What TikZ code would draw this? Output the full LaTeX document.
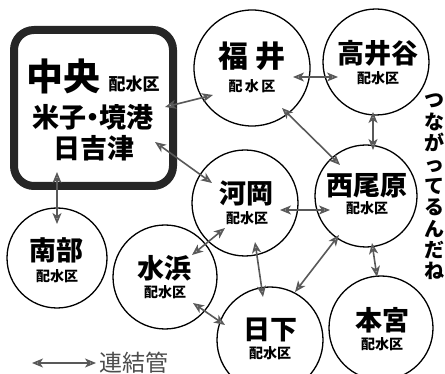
\documentclass[tikz,border=0pt]{standalone}
\usepackage{fontspec}
\newfontfamily\jp{Noto Sans CJK JP}
\usetikzlibrary{arrows.meta,calc}
\begin{document}
\begin{tikzpicture}[x=1pt,y=-1pt,
  ward/.style={circle,draw=black,line width=1.3pt,minimum size=#1,inner sep=0pt},
  big/.style={font=\jp\bfseries\fontsize{27}{30}\selectfont,inner sep=0pt},
  small/.style={font=\jp\bfseries\fontsize{14}{16}\selectfont,inner sep=0pt},
  conn/.style={draw=black!65,line width=1.6pt,
    {Stealth[length=11pt,width=9pt,inset=3pt,fill=black!30]}-{Stealth[length=11pt,width=9pt,inset=3pt,fill=black!30]}},
]
\useasboundingbox (0,0) rectangle (445,374);
% central box
\node[draw=black!85,line width=8pt,rounded corners=20pt,minimum width=159pt,minimum height=156pt] (chuo) at (93.5,108) {};
\node[font=\jp\bfseries\fontsize{37}{40}\selectfont,inner sep=0pt] (chuoT) at (63.5,76) {中央};
\node[font=\jp\bfseries\fontsize{17}{19}\selectfont,inner sep=0pt] (chuoS) at (134,84) {配水区};
\node[big] (yonago) at (93,117) {米子\kern-7pt・\kern-7pt境港};
\node[big] (hiezu) at (94,148) {日吉津};
% circles
\node[ward=116pt] (fukui) at (252,68) {};
\node[ward=106pt] (takaiya) at (376,62) {};
\node[ward=102pt] (nishio) at (366,196) {};
\node[ward=106pt] (kawaoka) at (245,203) {};
\node[ward=100pt] (nanbu) at (57,258) {};
\node[ward=104pt] (mizuhama) at (165,277) {};
\node[ward=106pt] (kusaka) at (270,340) {};
\node[ward=104pt] (hongu) at (381,328) {};
% labels
\node[big,font=\jp\bfseries\fontsize{30}{32}\selectfont] (fukuiT) at (252,56) {福\hspace{8pt}井};
\node[small] (fukuiS) at (252,86) {配\,水\,区};
\node[big] (takaiyaT) at (378,53) {高井谷};
\node[small] (takaiyaS) at (378,78) {配水区};
\node[big] (nishioT) at (367,186) {西尾原};
\node[small] (nishioS) at (367,208) {配水区};
\node[big] (kawaokaT) at (246,193) {河岡};
\node[small] (kawaokaS) at (247,218) {配水区};
\node[big] (nanbuT) at (57,250) {南部};
\node[small] (nanbuS) at (57,276) {配水区};
\node[big] (mizuhamaT) at (164,268) {水浜};
\node[small] (mizuhamaS) at (165,292) {配水区};
\node[big] (kusakaT) at (270,330) {日下};
\node[small] (kusakaS) at (270,353) {配水区};
\node[big] (honguT) at (382,320) {本宮};
\node[small] (honguS) at (382,344) {配水区};
% vertical comment
\node[font=\jp\bfseries\fontsize{20}{21.4}\selectfont,align=center,inner sep=0pt] (comment) at (434,187) {つ\\な\\が\\っ\\て\\る\\ん\\だ\\ね};
% connectors
\draw[conn] ($(chuo)+(71.5,-1)$) -- ($(fukui)+(-39,27)$);
\draw[conn] ($(chuo)+(61.5,34)$) -- ($(kawaoka)+(-33,-20)$);
\draw[conn] ($(chuo)+(-36.5,64)$) -- ($(nanbu)+(0,-34)$);
\draw[conn] ($(fukui)+(41,9)$) -- ($(takaiya)+(-38,15)$);
\draw[conn] ($(fukui)+(30,40)$) -- ($(nishio)+(-26,-31)$);
\draw[conn] ($(takaiya)+(-3,50)$) -- ($(nishio)+(7,-46)$);
\draw[conn] ($(kawaoka)+(35,7)$) -- ($(nishio)+(-36,14)$);
\draw[conn] ($(kawaoka)+(-20,25)$) -- ($(mizuhama)+(27,-22)$);
\draw[conn] ($(kawaoka)+(10,39)$) -- ($(kusaka)+(-7,-43)$);
\draw[conn] ($(nishio)+(-27,39)$) -- ($(kusaka)+(25,-48)$);
\draw[conn] ($(nishio)+(6,47)$) -- ($(hongu)+(-4,-51)$);
\draw[conn] ($(mizuhama)+(28,26)$) -- ($(kusaka)+(-45,-15)$);
% legend
\node[font=\jp\fontsize{23}{25}\selectfont,text=black!70,inner sep=0pt,anchor=west] (legend) at (99,363) {連結管};
\coordinate (legA) at (32,363);
\draw[conn] (legA) -- ($(legend.west)+(-3,0)$);
\end{tikzpicture}
\end{document}
